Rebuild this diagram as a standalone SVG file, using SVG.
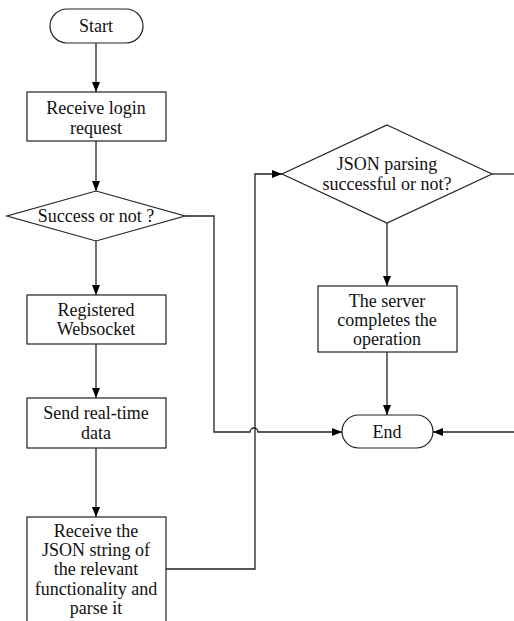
<svg xmlns="http://www.w3.org/2000/svg" width="514" height="621" viewBox="0 0 514 621">
<defs>
<marker id="ah" markerWidth="10" markerHeight="8" refX="10" refY="4" orient="auto" markerUnits="userSpaceOnUse">
<path d="M0,0 L10,4 L0,8 Z" fill="#000"/>
</marker>
</defs>
<style>
.s{fill:#fff;stroke:#222;stroke-width:1.2}
.c{fill:none;stroke:#222;stroke-width:1.3}
.t{font-family:'Liberation Serif','Times New Roman',serif;font-size:18px;fill:#111;text-anchor:middle;dominant-baseline:central}
</style>
<rect width="514" height="621" fill="#fff"/>
<g id="connectors">
<path class="c" d="M96,43 V92" marker-end="url(#ah)"/>
<path class="c" d="M96,141 V191" marker-end="url(#ah)"/>
<path class="c" d="M96,241 V295" marker-end="url(#ah)"/>
<path class="c" d="M96,344 V398" marker-end="url(#ah)"/>
<path class="c" d="M96,448 V517" marker-end="url(#ah)"/>
<path class="c" d="M185,216 H214 V432 H250 A4,4 0 0 1 258,432 H342" marker-end="url(#ah)"/>
<path class="c" d="M166,569 H255 V174 H282" marker-end="url(#ah)"/>
<path class="c" d="M492,174 H514"/>
<path class="c" d="M514,432 H433" marker-end="url(#ah)"/>
<path class="c" d="M387,223 V286" marker-end="url(#ah)"/>
<path class="c" d="M387,352 V415" marker-end="url(#ah)"/>
</g>
<g id="start" class="t">
<rect class="s" x="50" y="9" width="93" height="34" rx="17"/>
<text x="96" y="26">Start</text>
</g>
<g id="login" class="t">
<rect class="s" x="27" y="92" width="139" height="49"/>
<text x="96" y="108">Receive login</text>
<text x="96" y="128">request</text>
</g>
<g id="success" class="t">
<polygon class="s" points="96,191 185,216 96,241 7,216"/>
<text x="96" y="216">Success or not ?</text>
</g>
<g id="websocket" class="t">
<rect class="s" x="27" y="295" width="139" height="49"/>
<text x="96" y="310">Registered</text>
<text x="96" y="329">Websocket</text>
</g>
<g id="send" class="t">
<rect class="s" x="27" y="398" width="139" height="50"/>
<text x="96" y="413">Send real-time</text>
<text x="96" y="433">data</text>
</g>
<g id="receive" class="t">
<rect class="s" x="27" y="517" width="139" height="110"/>
<text x="96" y="531">Receive the</text>
<text x="96" y="550">JSON string of</text>
<text x="96" y="569">the relevant</text>
<text x="96" y="589">functionality and</text>
<text x="96" y="608">parse it</text>
</g>
<g id="json" class="t">
<polygon class="s" points="387,125 492,174 387,223 282,174"/>
<text x="387" y="164">JSON parsing</text>
<text x="387" y="184">successful or not?</text>
</g>
<g id="server" class="t">
<rect class="s" x="318" y="286" width="139" height="66"/>
<text x="387" y="301">The server</text>
<text x="387" y="320">completes the</text>
<text x="387" y="339">operation</text>
</g>
<g id="end" class="t">
<rect class="s" x="342" y="415" width="91" height="33" rx="16.5"/>
<text x="387" y="432">End</text>
</g>
</svg>
